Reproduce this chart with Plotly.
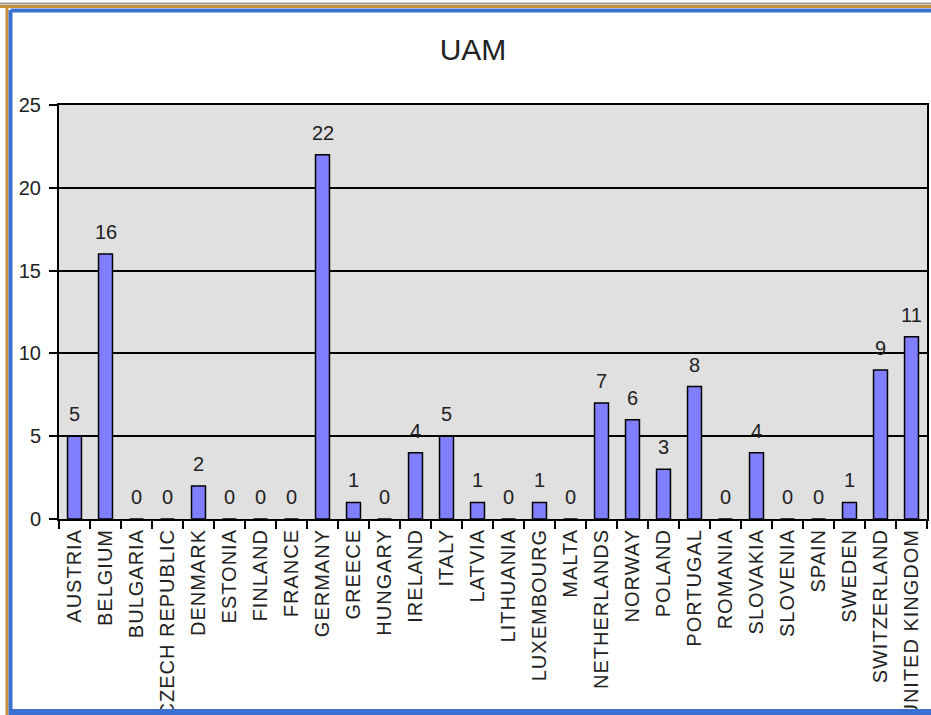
import plotly.graph_objects as go

countries = [
    "AUSTRIA", "BELGIUM", "BULGARIA", "CZECH REPUBLIC", "DENMARK", "ESTONIA",
    "FINLAND", "FRANCE", "GERMANY", "GREECE", "HUNGARY", "IRELAND", "ITALY",
    "LATVIA", "LITHUANIA", "LUXEMBOURG", "MALTA", "NETHERLANDS", "NORWAY",
    "POLAND", "PORTUGAL", "ROMANIA", "SLOVAKIA", "SLOVENIA", "SPAIN",
    "SWEDEN", "SWITZERLAND", "UNITED KINGDOM",
]
uam = [5, 16, 0, 0, 2, 0, 0, 0, 22, 1, 0, 4, 5, 1, 0, 1, 0, 7, 6, 3, 8, 0, 4, 0, 0, 1, 9, 11]
y_ticks = [0, 5, 10, 15, 20, 25]

W, H = 931, 715
L, R, T, B = 59, 927, 105, 519  # plot area in pixels
FONT = "Liberation Sans, Arial, sans-serif"


def px_x(p):
    return (p - L) / (R - L)


def px_y(p):
    return (B - p) / (B - T)


# the old Excel font is spaced out a bit
tick_text = ['<span style="letter-spacing:1px">%s</span>' % c for c in countries]

fig = go.Figure(go.Bar(
    x=countries, y=uam,
    marker=dict(color="#8080FF", line=dict(color="#000000", width=1.5)),
    width=0.45,
    hoverinfo="x+y",
))

# value labels above each bar
for c, v in zip(countries, uam):
    fig.add_annotation(x=c, y=v, text=str(v), showarrow=False,
                       yanchor="bottom", yshift=9,
                       font=dict(family=FONT, size=20, color="#222"))

# window frame around the chart
frame = [
    (0, 3.5, W, 3.5, "#9a9a90", 2),
    (0, 6.5, W, 6.5, "#c8923c", 3),
    (7, 5, 7, H, "#c8923c", 3),
    (10.5, 10.5, W, 10.5, "#3a70d0", 4),
    (10.5, 10, 10.5, H, "#3a70d0", 4),
    (10, 712, W, 712, "#3a70d0", 6),
]
for x0, y0, x1, y1, col, w in frame:
    fig.add_shape(type="line", xref="paper", yref="paper",
                  x0=px_x(x0), y0=px_y(y0), x1=px_x(x1), y1=px_y(y1),
                  line=dict(color=col, width=w), layer="above")

fig.update_layout(
    width=W, height=H,
    margin=dict(l=L, r=W - R, t=T, b=H - B, autoexpand=False),
    paper_bgcolor="#FFFFFF",
    plot_bgcolor="#E0E0E0",
    showlegend=False,
    font=dict(family=FONT, color="#222"),
    title=dict(text="UAM", x=473 / W, y=1 - 49 / H, xref="container", yref="container",
               xanchor="center", yanchor="middle",
               font=dict(family=FONT, size=30, color="#222")),
    xaxis=dict(
        tickmode="array", tickvals=countries, ticktext=tick_text,
        tickangle=-90, tickfont=dict(size=20, color="#222"),
        ticks="outside", ticklen=8, tickcolor="#000", tickwidth=1.5,
        tickson="boundaries",
        showline=True, linecolor="#000", linewidth=2, mirror=True,
        showgrid=False, automargin=False,
    ),
    yaxis=dict(
        range=[0, 25], tickvals=y_ticks,
        tickfont=dict(size=20, color="#222"),
        ticks="outside", ticklen=8, tickcolor="#000", tickwidth=1.5,
        ticklabelstandoff=4,
        showline=True, linecolor="#000", linewidth=2, mirror=True,
        showgrid=True, gridcolor="#000", gridwidth=1.5,
        zeroline=False, automargin=False,
    ),
)

fig.write_html("out.html", config={"displayModeBar": False},
               post_script="document.body.style.margin='0';")
